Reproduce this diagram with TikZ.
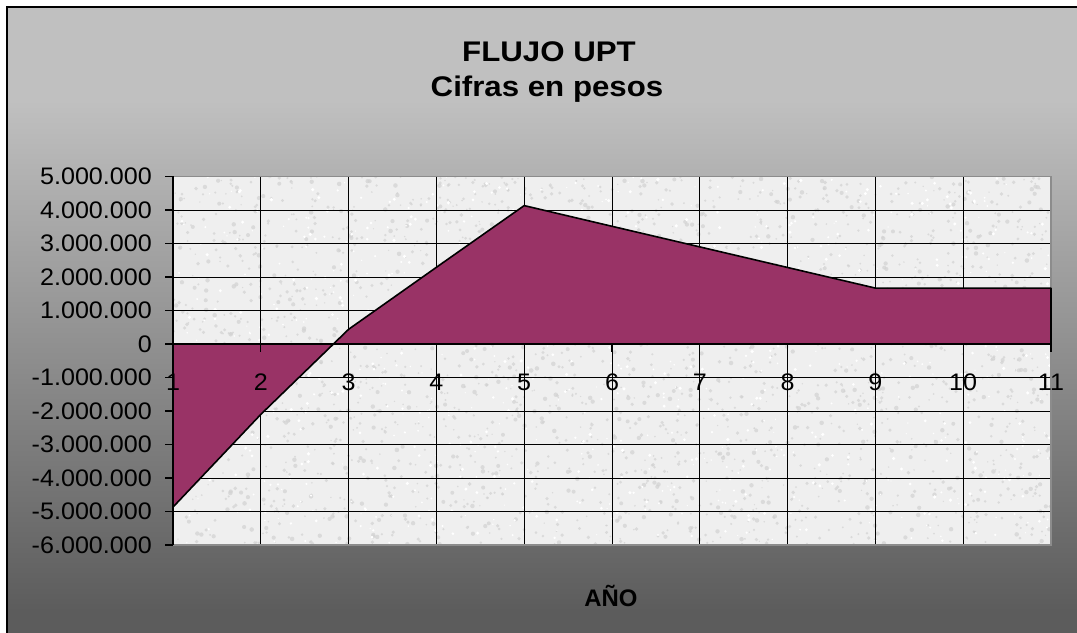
\documentclass[tikz,border=0pt]{standalone}
\usepackage{fontspec}
\usepackage{graphicx}
\setmainfont{Liberation Sans}
\definecolor{bgtop}{HTML}{C0C0C0}
\definecolor{bgbot}{HTML}{5C5C5C}
\definecolor{plotbg}{HTML}{EFEFEF}
\definecolor{speck}{HTML}{D2D2D2}
\definecolor{plum}{HTML}{993366}
\definecolor{pborder}{HTML}{8C8C8C}
\begin{document}
\begin{tikzpicture}[x=1bp,y=-1bp,
  gridline/.style={black, line width=0.9bp},
  axisline/.style={black, line width=1.2bp},
  ticklab/.style={inner sep=0pt, font=\fontsize{24}{26}\selectfont},
  ylab/.style={ticklab, anchor=east},
  xlab/.style={ticklab, anchor=base},
  titlelab/.style={inner sep=0pt, anchor=base, font=\bfseries\fontsize{28.5}{32}\selectfont},
  axtitle/.style={inner sep=0pt, anchor=base, font=\bfseries\fontsize{24}{28}\selectfont}]
\useasboundingbox (0,0) rectangle (1077,633);
% chart background
\fill[white] (0,0) rectangle (1077,633);
\fill[bgtop] (7,7) rectangle (1077,101);
\fill[bgbot] (7,610) rectangle (1077,633);
\shade[top color=bgtop, bottom color=bgbot] (7,100) rectangle (1077,611);
\draw[black, line width=2bp] (7,634) -- (7,7) -- (1078,7);
% plot area with granite texture
\fill[plotbg] (173,176.5) rectangle (1051,545);
\begin{scope}
  \clip (173,176.5) rectangle (1051,545);
  \pgfmathsetseed{4242}
  \foreach \i in {1,...,2600}
    \fill[speck, opacity=0.7] ({173+878*rnd},{176.5+368.5*rnd}) circle ({0.7+1.6*rnd});
  \foreach \i in {1,...,900}
    \fill[white] ({173+878*rnd},{176.5+368.5*rnd}) circle ({0.6+1.2*rnd});
\end{scope}
\foreach \v in {5,4,...,-6}
  \draw[gridline] (173,344-33.5*\v) -- (1051,344-33.5*\v);
\foreach \k in {1,...,11}
  \draw[gridline] (173+87.8*\k-87.8,176.5) -- (173+87.8*\k-87.8,545);
\draw[pborder, line width=1.5bp] (173,176.5) rectangle (1051,545);
% area series
\filldraw[fill=plum, draw=black, line width=1.6bp, line join=round]
  (173,344) -- (173,507.1) -- (260.8,414.4) -- (348.6,329.3) -- (436.4,267.3)
  -- (524.2,205.6) -- (612,226.3) -- (699.8,246.9) -- (787.6,267.5)
  -- (875.4,288.1) -- (963.2,288.1) -- (1051,288.1) -- (1051,344) -- cycle;
% axes
\draw[axisline] (173,176.5) -- (173,545);
\foreach \v in {5,4,...,-6}
  \draw[axisline] (165,344-33.5*\v) -- (173,344-33.5*\v);
\draw[black, line width=1.8bp] (173,344) -- (1051,344);
\foreach \k in {1,...,11}
  \draw[axisline] (173+87.8*\k-87.8,344) -- (173+87.8*\k-87.8,352);
% value axis labels
\node[ylab] (y5) at (152,176.5) {\scalebox{1.05}[1]{5.000.000}};
\node[ylab] (y4) at (152,210) {\scalebox{1.05}[1]{4.000.000}};
\node[ylab] (y3) at (152,243.5) {\scalebox{1.05}[1]{3.000.000}};
\node[ylab] (y2) at (152,277) {\scalebox{1.05}[1]{2.000.000}};
\node[ylab] (y1) at (152,310.5) {\scalebox{1.05}[1]{1.000.000}};
\node[ylab] (y0) at (152,344) {\scalebox{1.05}[1]{0}};
\node[ylab] (ym1) at (152,377.5) {\scalebox{1.05}[1]{-1.000.000}};
\node[ylab] (ym2) at (152,411) {\scalebox{1.05}[1]{-2.000.000}};
\node[ylab] (ym3) at (152,444.5) {\scalebox{1.05}[1]{-3.000.000}};
\node[ylab] (ym4) at (152,478) {\scalebox{1.05}[1]{-4.000.000}};
\node[ylab] (ym5) at (152,511.5) {\scalebox{1.05}[1]{-5.000.000}};
\node[ylab] (ym6) at (152,545) {\scalebox{1.05}[1]{-6.000.000}};
% category labels
\foreach \k in {1,...,11}
  \node[xlab] (x\k) at (173+87.8*\k-87.8,390) {\scalebox{1.05}[1]{\k}};
% titles
\node[titlelab] (t1) at (549,62) {\scalebox{1.1}[1]{FLUJO UPT}};
\node[titlelab] (t2) at (547,97) {\scalebox{1.1}[1]{Cifras en pesos}};
\node[axtitle] (xt) at (611,606.5) {AÑO};
\end{tikzpicture}
\end{document}
